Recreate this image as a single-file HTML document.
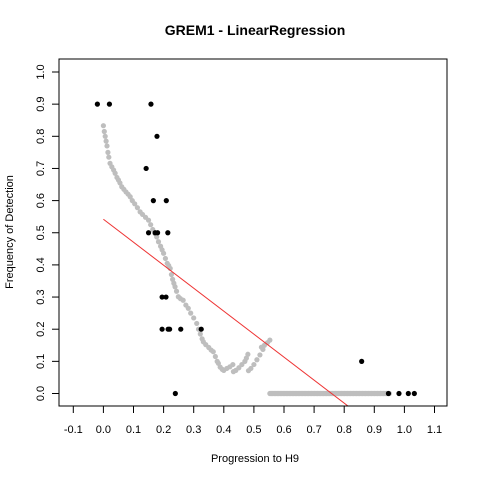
<!DOCTYPE html>
<html><head><meta charset="utf-8"><style>
html,body{margin:0;padding:0;background:#fff;}
svg{display:block;font-family:"Liberation Sans",Arial,sans-serif;}
</style></head><body>
<svg id="chart" width="480" height="480">
<rect width="480" height="480" fill="#fff"/>
<text x="255" y="35" text-anchor="middle" font-size="14" font-weight="bold">GREM1 - LinearRegression</text>
<text x="466" y="0" transform="translate(0,0)" font-size="1" fill="#fff"></text>
<text transform="translate(13,232) rotate(-90)" text-anchor="middle" font-size="11">Frequency of Detection</text>
<text x="255" y="462" text-anchor="middle" font-size="11">Progression to H9</text>
<defs><clipPath id="pc"><rect x="59" y="59" width="388" height="347"/></clipPath></defs>
<g id="grey" clip-path="url(#pc)"></g>
<g id="reg" clip-path="url(#pc)"></g>
<g id="black"></g>
<rect x="59" y="59" width="388" height="347" fill="none" stroke="#000" stroke-width="1"/>
<g id="axes"></g>
</svg>
<script>
const xTicks=[-0.1,0,0.1,0.2,0.3,0.4,0.5,0.6,0.7,0.8,0.9,1.0,1.1];
const xTickLabels=["-0.1","0.0","0.1","0.2","0.3","0.4","0.5","0.6","0.7","0.8","0.9","1.0","1.1"];
const yTicks=[0,0.1,0.2,0.3,0.4,0.5,0.6,0.7,0.8,0.9,1.0];
const yTickLabels=["0.0","0.1","0.2","0.3","0.4","0.5","0.6","0.7","0.8","0.9","1.0"];
const blackX=[-0.02,0.02,0.158,0.178,0.142,0.166,0.209,0.15,0.172,0.18,0.214,0.195,0.208,0.195,0.215,0.22,0.257,0.325,0.239,0.858,0.947,0.982,1.013,1.033];
const blackY=[0.9,0.9,0.9,0.8,0.7,0.6,0.6,0.5,0.5,0.5,0.5,0.3,0.3,0.2,0.2,0.2,0.2,0.2,0.0,0.1,0,0,0,0];
const greyX=[0.000,0.003,0.006,0.009,0.012,0.015,0.018,0.022,0.028,0.034,0.039,0.045,0.05,0.055,0.061,0.068,0.075,0.082,0.089,0.096,0.104,0.113,0.122,0.13,0.14,0.15,0.157,0.164,0.171,0.177,0.183,0.19,0.195,0.2,0.206,0.212,0.217,0.222,0.226,0.23,0.234,0.238,0.243,0.249,0.256,0.265,0.274,0.282,0.29,0.3,0.31,0.316,0.322,0.328,0.332,0.34,0.35,0.358,0.365,0.372,0.378,0.382,0.388,0.395,0.40,0.41,0.42,0.43,0.432,0.44,0.45,0.46,0.47,0.475,0.48,0.482,0.49,0.5,0.51,0.52,0.53,0.525,0.535,0.545,0.553,
0.553,0.56,0.57,0.58,0.59,0.6,0.61,0.62,0.63,0.64,0.65,0.66,0.67,0.68,0.69,0.7,0.71,0.72,0.73,0.74,0.75,0.76,0.77,0.78,0.79,0.8,0.81,0.82,0.83,0.84,0.85,0.86,0.87,0.88,0.89,0.9,0.91,0.92,0.93,0.94,0.95];
const greyY=[0.833,0.815,0.80,0.785,0.77,0.75,0.735,0.716,0.705,0.695,0.685,0.672,0.664,0.655,0.643,0.635,0.627,0.62,0.612,0.6,0.59,0.578,0.565,0.557,0.548,0.539,0.525,0.51,0.498,0.487,0.472,0.458,0.447,0.436,0.42,0.405,0.398,0.389,0.37,0.355,0.343,0.332,0.318,0.301,0.295,0.29,0.275,0.265,0.25,0.235,0.218,0.2,0.185,0.17,0.161,0.152,0.143,0.135,0.13,0.115,0.1,0.094,0.082,0.075,0.072,0.078,0.083,0.09,0.068,0.072,0.08,0.09,0.1,0.11,0.122,0.071,0.078,0.09,0.105,0.12,0.137,0.144,0.15,0.158,0.166,
0,0,0,0,0,0,0,0,0,0,0,0,0,0,0,0,0,0,0,0,0,0,0,0,0,0,0,0,0,0,0,0,0,0,0,0,0,0,0,0,0];
const regIntercept=0.542;
const regSlope=-0.715;
const regRange=[0,1.033];

const NS="http://www.w3.org/2000/svg";
const sx=v=>103.4+v*301;
const sy=v=>393.5-v*321.5;
function mk(tag,attrs,parent){const e=document.createElementNS(NS,tag);for(const k in attrs)e.setAttribute(k,attrs[k]);parent.appendChild(e);return e;}
const gG=document.getElementById('grey'),gB=document.getElementById('black'),gR=document.getElementById('reg'),gA=document.getElementById('axes');
greyX.forEach((x,i)=>{const c=mk('circle',{cx:sx(x),cy:sy(greyY[i]),r:2.6,fill:'#bebebe'},gG);

});
// dense zero segment between listed points
for(let i=1;i<greyX.length;i++){if(greyY[i]===0&&greyY[i-1]===0){const l=mk('line',{x1:sx(greyX[i-1]),x2:sx(greyX[i]),y1:sy(0),y2:sy(0),stroke:'#bebebe','stroke-width':5.2},gG);

}}
const rl=mk('line',{x1:sx(regRange[0]),y1:sy(regIntercept+regSlope*regRange[0]),x2:sx(regRange[1]),y2:sy(regIntercept+regSlope*regRange[1]),stroke:'#ee3333','stroke-width':1},gR);


blackX.forEach((x,i)=>{const c=mk('circle',{cx:sx(x),cy:sy(blackY[i]),r:2.6,fill:'#000'},gB);

});
xTicks.forEach((t,i)=>{const x=sx(t);
const l=mk('line',{x1:x,x2:x,y1:406,y2:413,stroke:'#000'},gA);


const tx=mk('text',{x:x,y:433,'text-anchor':'middle','font-size':11},gA);tx.textContent=xTickLabels[i];

});
yTicks.forEach((t,i)=>{const y=sy(t);
const l=mk('line',{x1:52,x2:59,y1:y,y2:y,stroke:'#000'},gA);


const tx=mk('text',{transform:`translate(44,${y}) rotate(-90)`,'text-anchor':'middle','font-size':11},gA);tx.textContent=yTickLabels[i];

});
</script>
</body></html>
